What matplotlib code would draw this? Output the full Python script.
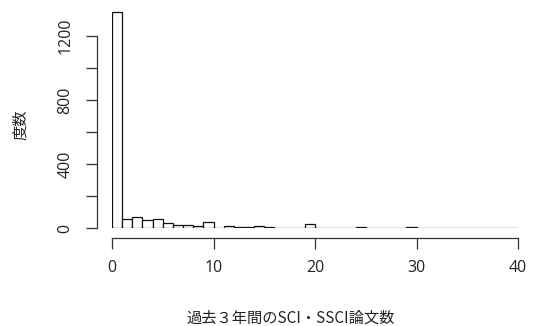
import matplotlib
matplotlib.use("Agg")
import matplotlib.pyplot as plt
import numpy as np

plt.rcParams['font.family'] = ['Noto Sans CJK JP', 'DejaVu Sans']

bin_edges = list(range(0, 41))
counts = [1350, 54, 69, 48, 54, 31, 21, 21, 13, 36,
          3, 14, 8, 4, 14, 8, 3, 2, 3, 22,
          2, 2, 1, 3, 8, 3, 1, 1, 1, 7,
          1, 1, 1, 1, 1, 1, 1, 1, 1, 1]
x_ticks = [0, 10, 20, 30, 40]
y_ticks = [0, 200, 400, 600, 800, 1000, 1200]
y_labels = ["0", "", "400", "", "800", "", "1200"]
xlabel = "過去３年間のSCI・SSCI論文数"
ylabel = "度数"

W, H = 533, 326
fig = plt.figure(figsize=(W / 100, H / 100), dpi=100)
x0, x1 = 112, 518
ybot, ytop = 228, 5
ppu = 0.16
ax = fig.add_axes([x0 / W, 1 - ybot / H, (x1 - x0) / W, (ybot - ytop) / H])
ax.set_xlim(0, 40)
ax.set_ylim(0, (ybot - ytop) / ppu)

lefts = np.array(bin_edges[:-1])
widths = np.diff(bin_edges)
ax.bar(lefts, counts, width=widths, align='edge', facecolor='white',
       edgecolor='#111111', linewidth=0.9)

for s in ['top', 'right']:
    ax.spines[s].set_visible(False)
ax.spines['left'].set_position(('outward', 15 * 0.72))
ax.spines['bottom'].set_position(('outward', 9.5 * 0.72))
ax.spines['left'].set_bounds(0, 1200)
ax.spines['bottom'].set_bounds(0, 40)
for s in ['left', 'bottom']:
    ax.spines[s].set_linewidth(0.9)
    ax.spines[s].set_color('#333333')

tick_font = ['Open Sans', 'DejaVu Sans']
ax.set_xticks(x_ticks)
ax.set_xticklabels([str(v) for v in x_ticks], family=tick_font)
ax.set_yticks(y_ticks)
ax.set_yticklabels(y_labels, rotation=90, va='center', family=tick_font)
ax.tick_params(axis='both', direction='out', length=11 * 0.72, width=0.9,
               labelsize=11.5, colors='#333333', labelcolor='#222222')
ax.tick_params(axis='x', pad=8)
ax.tick_params(axis='y', pad=9)

fig.text(291 / W, 1 - 318 / H, xlabel, ha='center',
         va='center', fontsize=11, color='#222222')
fig.text(21 / W, 1 - 125 / H, ylabel, ha='center', va='center',
         rotation=90, fontsize=11, color='#222222')

fig.savefig("out.png", dpi=100)
